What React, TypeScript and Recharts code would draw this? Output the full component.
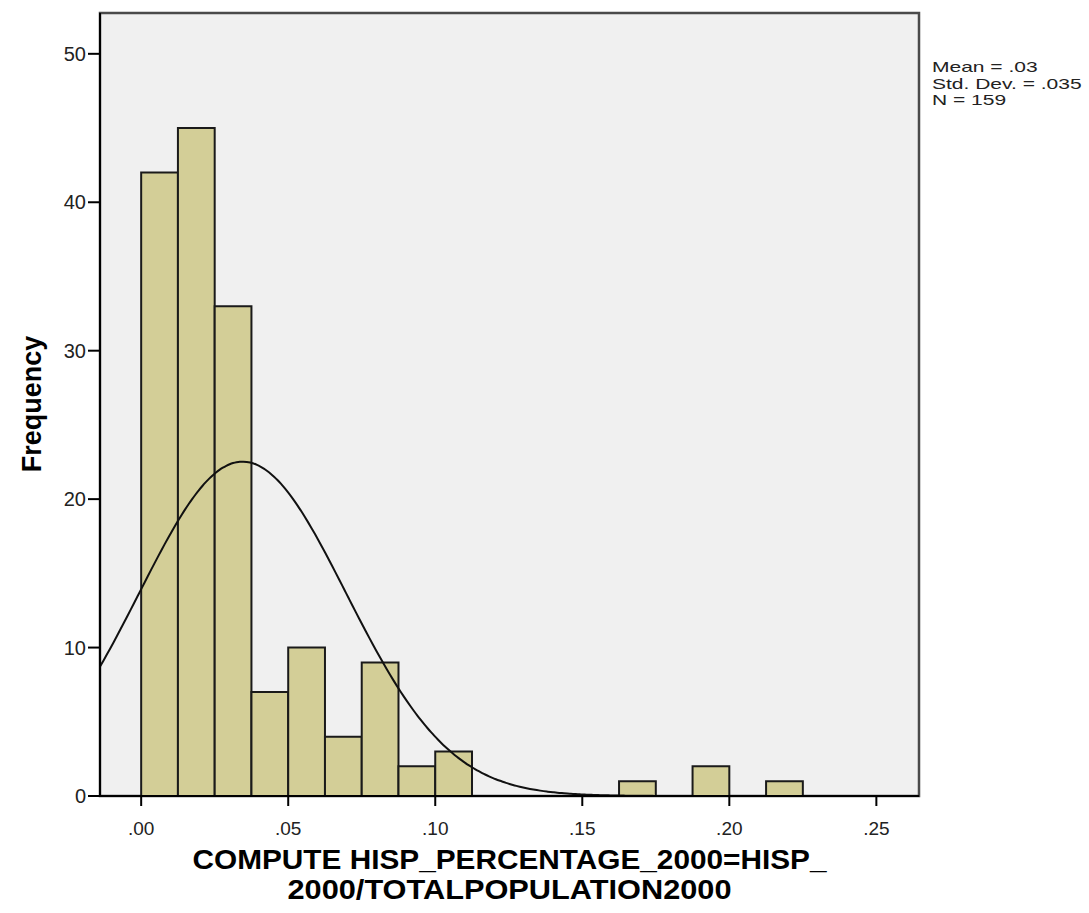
import React from 'react';
import { ComposedChart, Line, XAxis, YAxis, ReferenceArea } from 'recharts';

// histogram bins (lower edge) and their counts
const BIN_WIDTH = 0.0125;
const BIN_STARTS = [0, 0.0125, 0.025, 0.0375, 0.05, 0.0625, 0.075, 0.0875, 0.1, 0.1625, 0.1875, 0.2125];
const BIN_COUNTS = [42, 45, 33, 7, 10, 4, 9, 2, 3, 1, 2, 1];

const X_TICKS = [0, 0.05, 0.1, 0.15, 0.2, 0.25];
const Y_TICKS = [0, 10, 20, 30, 40, 50];

// summary statistics shown in the corner and used for the normal curve
const MEAN = 0.0345;
const STD_DEV = 0.0352;
const N = 159;

const X_DOMAIN: [number, number] = [-0.014, 0.2645];
const Y_MAX = 52.75;

const X_TITLE_LINES = ['COMPUTE HISP_PERCENTAGE_2000=HISP_', '2000/TOTALPOPULATION2000'];
const Y_TITLE = 'Frequency';

const FONT = '"Liberation Sans", Arial, Helvetica, sans-serif';
const BAR_FILL = '#D3CE97';
const PLOT_BG = '#F0F0F0';

const fmtDec = (v: number, digits: number) => {
  const s = v.toFixed(digits);
  return s.startsWith('0') ? s.slice(1) : s;
};

// normal density scaled to counts per bin
const curveData = (() => {
  const pts: { x: number; y: number }[] = [];
  const steps = 240;
  for (let i = 0; i <= steps; i++) {
    const x = X_DOMAIN[0] + ((X_DOMAIN[1] - X_DOMAIN[0]) * i) / steps;
    const z = (x - MEAN) / STD_DEV;
    const y = (N * BIN_WIDTH * Math.exp((-z * z) / 2)) / (STD_DEV * Math.sqrt(2 * Math.PI));
    pts.push({ x, y });
  }
  return pts;
})();

const XTitle = (props: any) => {
  const vb = props.viewBox || {};
  const cx = vb.x + vb.width / 2;
  return (
    <g>
      {X_TITLE_LINES.map((line, i) => (
        <text
          key={i}
          x={cx}
          y={869 + i * 30}
          textAnchor="middle"
          fontFamily={FONT}
          fontWeight="bold"
          fontSize={28}
          textLength={i === 0 ? 634 : 444}
          lengthAdjust="spacingAndGlyphs"
          fill="#000"
        >
          {line}
        </text>
      ))}
    </g>
  );
};

const YTitle = () => (
  <text
    x={0}
    y={0}
    transform="translate(41, 404) rotate(-90)"
    textAnchor="middle"
    fontFamily={FONT}
    fontWeight="bold"
    fontSize={27}
    fill="#000"
  >
    {Y_TITLE}
  </text>
);

export default function App() {
  const stats = [
    `Mean = ${fmtDec(MEAN, 2)}`,
    `Std. Dev. = ${fmtDec(STD_DEV, 3)}`,
    `N = ${N}`,
  ];

  return (
    <div style={{ position: 'absolute', left: 0, top: 0, width: 1089, height: 913, background: '#fff' }}>
      <ComposedChart
        width={1089}
        height={913}
        data={curveData}
        margin={{ top: 13, right: 170, bottom: 0, left: 0 }}
      >
        {/* plot background with frame */}
        <ReferenceArea
          x1={X_DOMAIN[0]}
          x2={X_DOMAIN[1]}
          y1={0}
          y2={Y_MAX}
          fill={PLOT_BG}
          fillOpacity={1}
          stroke="#4a4a4a"
          strokeWidth={2.5}
        />
        <XAxis
          dataKey="x"
          type="number"
          domain={X_DOMAIN}
          ticks={X_TICKS}
          allowDataOverflow
          height={117}
          tickSize={10}
          tickMargin={16}
          tickFormatter={(v: number) => fmtDec(v, 2)}
          tick={{ fill: '#222', fontSize: 19, fontFamily: FONT }}
          axisLine={{ stroke: '#000', strokeWidth: 2 }}
          tickLine={{ stroke: '#000', strokeWidth: 2 }}
          label={<XTitle />}
        />
        <YAxis
          type="number"
          domain={[0, Y_MAX]}
          ticks={Y_TICKS}
          allowDataOverflow
          width={100}
          tickSize={12}
          tickMargin={2}
          tick={{ fill: '#222', fontSize: 20, fontFamily: FONT }}
          axisLine={{ stroke: '#000', strokeWidth: 2 }}
          tickLine={{ stroke: '#000', strokeWidth: 2 }}
          label={<YTitle />}
        />
        {BIN_STARTS.map((start, i) => (
          <ReferenceArea
            key={i}
            x1={start}
            x2={start + BIN_WIDTH}
            y1={0}
            y2={BIN_COUNTS[i]}
            fill={BAR_FILL}
            fillOpacity={1}
            stroke="#1a1a1a"
            strokeWidth={2}
          />
        ))}
        <Line
          dataKey="y"
          type="monotone"
          stroke="#111"
          strokeWidth={2}
          dot={false}
          activeDot={false}
          isAnimationActive={false}
        />
      </ComposedChart>
      <div
        style={{
          position: 'absolute',
          left: 932,
          top: 59,
          fontFamily: FONT,
          fontSize: 15,
          lineHeight: '16.5px',
          color: '#222',
          transform: 'scaleX(1.4)',
          transformOrigin: 'left top',
          whiteSpace: 'nowrap',
        }}
      >
        {stats.map((s, i) => (
          <div key={i}>{s}</div>
        ))}
      </div>
    </div>
  );
}
